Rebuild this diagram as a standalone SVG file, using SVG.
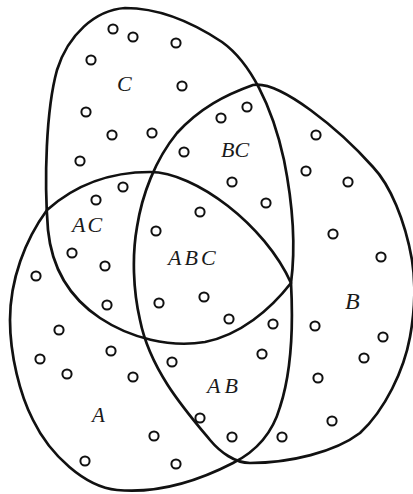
<svg xmlns="http://www.w3.org/2000/svg" width="413" height="494" viewBox="0 0 413 494">
<style>
.set{fill:none;stroke:#111;stroke-width:2.7;stroke-linejoin:round}
.d{fill:none;stroke:#111;stroke-width:2}
.lb{font-family:"Liberation Serif","Times New Roman",serif;font-style:italic;font-size:22px;fill:#1a1a1a}
</style>
<rect width="413" height="494" fill="#fff"/>
<g id="set-c">
<path class="set" d="M125,8 C160,8 195,24 222,42 C250,62 272,105 284,160 C292,200 296,245 291,283 C270,310 240,335 205,342 C170,348 130,338 100,318 C70,298 52,270 48,230 C44,180 46,110 57,70 C68,35 95,10 125,8 Z"/>
</g>
<g id="set-a">
<path class="set" d="M47,210 C75,185 110,172 150,172 C195,172 265,225 291,283 C293,320 292,370 280,407 C272,435 255,452 233,463 C200,480 160,494 117,490 C85,487 50,455 33,420 C20,395 10,355 10,320 C10,280 25,240 47,210 Z"/>
</g>
<g id="set-b">
<path class="set" d="M253,85 C280,80 340,130 373,167 C390,185 405,220 412,260 C416,285 414,315 410,337 C404,370 385,410 360,433 C335,452 290,463 250,463 C235,463 220,452 210,440 C185,410 150,370 140,320 C133,290 132,255 137,227 C142,195 155,160 177,133 C200,108 225,95 253,85 Z"/>
</g>
<g id="elements">
<circle class="d" cx="113" cy="29" r="4.6"/>
<circle class="d" cx="133" cy="37" r="4.6"/>
<circle class="d" cx="176" cy="43" r="4.6"/>
<circle class="d" cx="91" cy="60" r="4.6"/>
<circle class="d" cx="182" cy="86" r="4.6"/>
<circle class="d" cx="86" cy="112" r="4.6"/>
<circle class="d" cx="112" cy="135" r="4.6"/>
<circle class="d" cx="152" cy="133" r="4.6"/>
<circle class="d" cx="184" cy="152" r="4.6"/>
<circle class="d" cx="80" cy="161" r="4.6"/>
<circle class="d" cx="221" cy="118" r="4.6"/>
<circle class="d" cx="247" cy="107" r="4.6"/>
<circle class="d" cx="316" cy="135" r="4.6"/>
<circle class="d" cx="306" cy="171" r="4.6"/>
<circle class="d" cx="123" cy="187" r="4.6"/>
<circle class="d" cx="96" cy="200" r="4.6"/>
<circle class="d" cx="200" cy="212" r="4.6"/>
<circle class="d" cx="156" cy="231" r="4.6"/>
<circle class="d" cx="232" cy="182" r="4.6"/>
<circle class="d" cx="266" cy="203" r="4.6"/>
<circle class="d" cx="348" cy="182" r="4.6"/>
<circle class="d" cx="333" cy="234" r="4.6"/>
<circle class="d" cx="381" cy="257" r="4.6"/>
<circle class="d" cx="72" cy="253" r="4.6"/>
<circle class="d" cx="105" cy="266" r="4.6"/>
<circle class="d" cx="36" cy="276" r="4.6"/>
<circle class="d" cx="107" cy="305" r="4.6"/>
<circle class="d" cx="159" cy="303" r="4.6"/>
<circle class="d" cx="204" cy="297" r="4.6"/>
<circle class="d" cx="229" cy="319" r="4.6"/>
<circle class="d" cx="273" cy="324" r="4.6"/>
<circle class="d" cx="315" cy="326" r="4.6"/>
<circle class="d" cx="59" cy="330" r="4.6"/>
<circle class="d" cx="40" cy="359" r="4.6"/>
<circle class="d" cx="111" cy="351" r="4.6"/>
<circle class="d" cx="67" cy="374" r="4.6"/>
<circle class="d" cx="133" cy="377" r="4.6"/>
<circle class="d" cx="172" cy="362" r="4.6"/>
<circle class="d" cx="262" cy="354" r="4.6"/>
<circle class="d" cx="364" cy="358" r="4.6"/>
<circle class="d" cx="383" cy="337" r="4.6"/>
<circle class="d" cx="318" cy="378" r="4.6"/>
<circle class="d" cx="332" cy="421" r="4.6"/>
<circle class="d" cx="200" cy="418" r="4.6"/>
<circle class="d" cx="154" cy="436" r="4.6"/>
<circle class="d" cx="176" cy="464" r="4.6"/>
<circle class="d" cx="85" cy="461" r="4.6"/>
<circle class="d" cx="232" cy="437" r="4.6"/>
<circle class="d" cx="282" cy="437" r="4.6"/>
</g>
<g id="labels">
<text class="lb" x="117" y="91">C</text>
<text class="lb" x="221" y="157">BC</text>
<text class="lb" x="72" y="231.5" letter-spacing="2">AC</text>
<text class="lb" x="168" y="264.5" letter-spacing="3">ABC</text>
<text class="lb" x="207" y="393" letter-spacing="4">AB</text>
<text class="lb" x="345" y="309" style="font-size:24px">B</text>
<text class="lb" x="92" y="421.5" style="font-size:21px">A</text>
</g>
</svg>
